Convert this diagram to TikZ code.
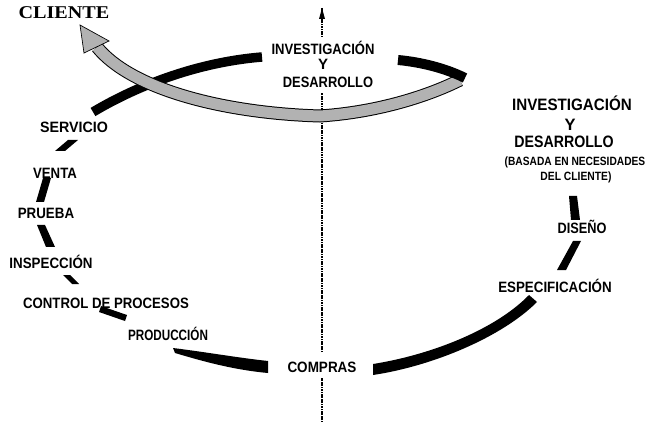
\documentclass[tikz,border=0pt]{standalone}
\usepackage{graphicx}
\usepackage{fontspec}
\newfontfamily\labfont{Liberation Sans}
\newfontfamily\clifont{Liberation Serif}
\usetikzlibrary{arrows.meta}
\tikzset{
  lab/.style={font=\labfont\bfseries\fontsize{15}{15}\selectfont, inner sep=0pt, anchor=base},
  labbig/.style={font=\labfont\bfseries\fontsize{16.5}{16.5}\selectfont, inner sep=0pt, anchor=base},
  labsmall/.style={font=\labfont\bfseries\fontsize{12}{12}\selectfont, inner sep=0pt, anchor=base},
  axisline/.style={line width=1.4pt, dash pattern=on 1.2pt off 0.5pt},
  band/.style={fill=black},
}
\begin{document}
\begin{tikzpicture}[x=1pt,y=-1pt]
\useasboundingbox (0,0) rectangle (648,422);
% axis
\coordinate (ax0) at (322,422);
\coordinate (ax1) at (322,378);
\coordinate (ax2) at (322,352);
\coordinate (ax3) at (322,93);
\coordinate (ax4) at (322,37);
\coordinate (ax5) at (322,8);
\draw[axisline] (ax0) -- (ax1);
\draw[axisline] (ax2) -- (ax3);
\draw[axisline] (ax4) -- (ax5);
\fill (322,8) -- (325,19) -- (319,19) -- cycle;

% labels
\node[inner sep=0pt, anchor=base, font=\clifont\bfseries\fontsize{18}{18}\selectfont] (cliente) at (64,19) {\scalebox{1.12}[1]{CLIENTE}};
\node[lab] (id1) at (323,54.5) {\scalebox{0.87}[1]{INVESTIGACIÓN}};
\node[lab] (id2) at (323,69.5) {Y};
\node[lab] (id3) at (328,87.5) {\scalebox{0.86}[1]{DESARROLLO}};
\node[labbig] (r1) at (572,111) {\scalebox{0.92}[1]{INVESTIGACIÓN}};
\node[labbig] (r2) at (570,131) {Y};
\node[labbig] (r3) at (564,148) {\scalebox{0.86}[1]{DESARROLLO}};
\node[labsmall] (r4) at (575,166) {\scalebox{0.85}[1]{(BASADA EN NECESIDADES}};
\node[labsmall] (r5) at (576,181) {\scalebox{0.86}[1]{DEL CLIENTE)}};
\node[lab] (diseno) at (582,233.5) {\scalebox{0.85}[1]{DISEÑO}};
\node[lab] (espec) at (555,292.5) {\scalebox{0.89}[1]{ESPECIFICACIÓN}};
\node[lab] (compras) at (322,372.5) {\scalebox{0.9}[1]{COMPRAS}};
\node[lab] (produccion) at (168,340.5) {\scalebox{0.78}[1]{PRODUCCIÓN}};
\node[lab] (control) at (106,308.5) {\scalebox{0.88}[1]{CONTROL DE PROCESOS}};
\node[lab] (inspeccion) at (51,268.5) {\scalebox{0.89}[1]{INSPECCIÓN}};
\node[lab] (prueba) at (46,218.5) {\scalebox{0.89}[1]{PRUEBA}};
\node[lab] (venta) at (55,178.5) {\scalebox{0.88}[1]{VENTA}};
\node[lab] (servicio) at (74,132.5) {\scalebox{0.95}[1]{SERVICIO}};

% spiral bands
\draw[line width=9.5pt] (93,112) .. controls (140,84) and (200,62) .. (262,57);
% grey arrow to client
\draw[line width=13pt, black] (460,80) .. controls (430,95) and (380,112) .. (320,116) .. controls (220,113) and (130,88) .. (97,47);
\draw[line width=11pt, gray!60] (460,80) .. controls (430,95) and (380,112) .. (320,116) .. controls (220,113) and (130,88) .. (97,47);
\filldraw[fill=gray!60, draw=black, line width=0.7pt] (80,25) -- (109,41) -- (84,53) -- cycle;
\draw[line width=10pt] (398,60) .. controls (420,62) and (445,68) .. (465,78);

\fill[band] (55,151) -- (65,151) -- (78,140) -- (68,140) -- cycle;
\fill[band] (43,178) -- (51,178) -- (44,202) -- (36,202) -- cycle;
\fill[band] (37,225) -- (45,225) -- (55,247) -- (46,247) -- cycle;
\fill[band] (63,275) -- (70,275) -- (79,284) -- (72,284) -- cycle;
\fill[band] (101,306) -- (127,315) -- (125,321) -- (99,312) -- cycle;
\fill[band] (173,348) .. controls (205,352) and (240,358) .. (268,361) -- (268,373) .. controls (235,370) and (205,362) .. (175,353) -- cycle;
\fill[band] (373,364) .. controls (430,355) and (495,330) .. (529,295) -- (537,302) .. controls (502,337) and (433,366) .. (373,375) -- cycle;
\fill[band] (573,241) -- (581,241) -- (566,270) -- (557,270) -- cycle;
\fill[band] (569,196) -- (577,196) -- (580,220) -- (571,220) -- cycle;
\end{tikzpicture}
\end{document}
